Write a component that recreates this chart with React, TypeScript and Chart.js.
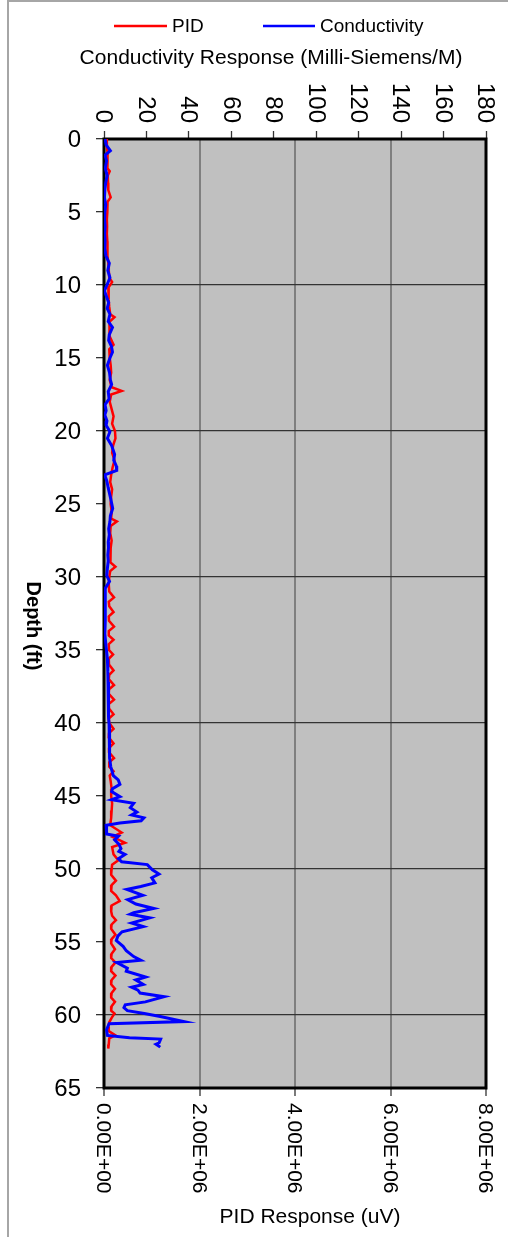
import React, { useEffect, useRef } from 'react';
import { Chart, registerables } from 'chart.js';
Chart.register(...registerables);

// PID response (uV) vs depth (ft)
const pidDepth = [0,0.5,1,1.5,2,2.2,2.5,3,3.5,4,4.3,5,5.5,6,6.5,7,7.5,8,8.5,9,9.5,9.8,10.2,10.6,11,11.5,12,12.2,12.5,13,13.5,14.1,14.4,15,15.5,16,16.5,17,17.25,17.5,18,18.5,19,19.5,20,20.5,21,21.5,22,22.5,23,23.5,24,24.5,25,25.5,26,26.2,26.5,27,27.5,28,28.5,29,29.3,29.6,30,30.5,31,31.4,31.7,32,32.4,32.7,33,33.4,33.7,34,34.3,34.6,35,35.3,35.6,36,36.4,36.7,37,37.4,37.7,38,38.4,38.7,39,39.4,39.7,40,40.4,40.7,41,41.4,41.7,42,42.4,42.7,43,43.3,43.6,44,44.5,45,45.5,46,46.5,47,47.5,47.8,48.2,48.5,49,49.4,49.7,50,50.4,50.8,51.1,51.5,51.8,52.2,52.5,52.9,53.2,53.5,53.8,54.1,54.5,54.8,55.1,55.5,55.8,56.1,56.4,56.7,57,57.3,57.6,57.9,58.2,58.5,58.8,59.1,59.4,59.7,59.9,60.2,60.5,60.8,61.1,61.4,61.6,62,62.3];
const pidValues = [45000,60000,75000,65000,80000,120000,80000,85000,90000,140000,75000,70000,60000,65000,60000,70000,65000,80000,90000,100000,110000,170000,90000,100000,95000,110000,130000,220000,120000,110000,120000,200000,110000,120000,140000,150000,120000,160000,370000,150000,120000,160000,200000,170000,230000,240000,190000,170000,220000,180000,150000,130000,170000,150000,140000,160000,150000,270000,140000,130000,160000,140000,130000,140000,240000,130000,110000,100000,110000,210000,100000,110000,200000,100000,105000,210000,100000,100000,200000,100000,105000,190000,100000,105000,200000,110000,100000,210000,105000,100000,210000,100000,105000,200000,100000,110000,200000,105000,100000,200000,110000,105000,210000,110000,110000,200000,120000,140000,160000,150000,170000,160000,150000,130000,370000,180000,440000,170000,200000,300000,170000,160000,150000,250000,160000,150000,250000,330000,160000,150000,170000,250000,160000,150000,240000,160000,150000,230000,160000,150000,240000,160000,150000,240000,160000,150000,230000,160000,150000,230000,160000,150000,220000,160000,110000,90000,100000,240000,110000,100000,90000];

// Conductivity (milli-Siemens/M) vs depth (ft)
const condDepth = [0,0.4,0.8,1.1,1.5,2,2.5,3,3.5,4,4.5,5,5.5,6,6.5,7,7.5,8,8.5,9,9.5,10,10.4,10.8,11.2,11.6,12,12.5,12.9,13.4,13.8,14.2,14.6,15,15.5,16,16.5,16.8,17.3,17.8,18.2,18.6,18.9,19.3,19.6,20.05,20.5,21,21.6,22,22.4,22.7,23,23.4,23.9,24.6,25.3,25.8,26.2,26.7,27.1,27.6,28,28.5,28.9,29.4,29.9,30.3,30.8,31.5,32.1,33,33.9,34.8,35.6,36.5,37.2,37.9,38.8,39.6,40.1,41,41.8,42.4,43,43.6,43.9,44.2,44.5,44.7,45.05,45.25,45.5,45.8,46.1,46.3,46.5,46.7,46.85,47,47.6,47.75,48,48.3,48.6,48.8,49,49.3,49.5,49.7,50.05,50.35,50.6,50.95,51.2,51.4,51.8,52.1,52.4,52.7,53,53.1,53.35,53.7,53.95,54.3,54.6,54.9,55.3,55.6,56,56.25,56.4,56.8,57,57.4,57.6,57.9,58.1,58.3,58.5,58.75,59.1,59.3,59.5,59.7,59.9,60.1,60.45,60.6,61,61.4,61.55,61.65,61.9,62,62.2];
const condValues = [0.5,1.0,3.0,0.5,1.2,0.6,1.5,0.8,0.4,0.2,0.8,0.4,0.3,0.5,0.3,0.5,0.4,0.9,2.5,1.8,2.8,1.4,0.2,1.2,2.2,1.5,2.8,2.0,4.0,2.5,2.2,3.5,4.0,2.8,1.6,2.6,3.0,3.6,2.0,2.4,0.5,1.0,0.4,1.4,1.0,2.8,1.6,3.6,5.0,4.6,5.8,6.0,0.3,1.3,2.0,3.1,4.1,3.0,2.8,2.2,2.5,2.0,2.1,1.8,2.0,1.6,1.3,2.6,0.5,0.6,0.5,0.7,0.4,1.0,1.6,1.8,1.9,2.0,2.1,2.3,2.4,2.5,2.6,2.8,3.2,4.4,6.7,7.5,4.0,3.6,7.5,3.6,14.0,12.4,15.5,13.0,18.8,17.5,7.5,1.0,1.2,6.8,5.0,7.0,8.0,7.0,9.9,6.8,8.3,20.4,22.8,25.9,22.5,24.0,17.3,10.8,18.3,11.2,15.0,23.4,14.0,12.4,21.5,13.0,18.5,8.5,6.5,5.8,9.0,10.5,14.0,17.3,6.0,11.0,10.5,19.6,15.0,18.5,13.0,16.0,17.0,28.3,19.5,10.0,9.4,11.0,19.0,26.5,37.7,2.4,1.2,1.6,12.0,26.7,26.0,24.5,26.5];

const depthTicks = [0,5,10,15,20,25,30,35,40,45,50,55,60,65];
const condTicks = [0,20,40,60,80,100,120,140,160,180];
const condTickLabels = ['0','20','40','60','80','100','120','140','160','180'];
const pidTicks = [0,2000000,4000000,6000000,8000000];
const pidTickLabels = ['0.00E+00','2.00E+06','4.00E+06','6.00E+06','8.00E+06'];

const FONT = '"Liberation Sans", Arial, sans-serif';

export default function App() {
  const ref = useRef<HTMLCanvasElement>(null);
  useEffect(() => {
    const canvas = ref.current;
    if (!canvas) return;
    const pidData = pidDepth.map((d, i) => ({ x: pidValues[i], y: d }));
    const condData = condDepth.map((d, i) => ({ x: condValues[i], y: d }));

    const decor = {
      id: 'decor',
      beforeDraw(chart: any) {
        const { ctx, chartArea: a } = chart;
        ctx.save();
        ctx.fillStyle = '#ffffff';
        ctx.fillRect(0, 0, chart.width, chart.height);
        ctx.fillStyle = '#c0c0c0';
        ctx.fillRect(a.left, a.top, a.right - a.left, a.bottom - a.top);
        // page frame
        ctx.fillStyle = '#a6a6a6';
        ctx.fillRect(7, 0, 2, chart.height);
        ctx.fillRect(7, 0, chart.width - 7, 2);
        ctx.restore();
      },
      beforeDatasetsDraw(chart: any) {
        const { ctx, chartArea: a } = chart;
        ctx.save();
        ctx.strokeStyle = '#000000';
        ctx.lineWidth = 3;
        ctx.strokeRect(a.left, a.top, a.right - a.left, a.bottom - a.top);
        ctx.restore();
      },
      afterDraw(chart: any) {
        const { ctx } = chart;
        const sx = chart.scales.x;
        const sx2 = chart.scales.x2;
        const sy = chart.scales.y;
        ctx.save();
        ctx.fillStyle = '#000000';
        // legend
        ctx.lineWidth = 2.5;
        ctx.strokeStyle = '#ff0000';
        ctx.beginPath(); ctx.moveTo(114, 26); ctx.lineTo(167, 26); ctx.stroke();
        ctx.strokeStyle = '#0000ff';
        ctx.beginPath(); ctx.moveTo(263, 26); ctx.lineTo(315, 26); ctx.stroke();
        ctx.font = '19px ' + FONT;
        ctx.textAlign = 'left';
        ctx.textBaseline = 'middle';
        ctx.fillText('PID', 172, 27);
        ctx.fillText('Conductivity', 320, 27);
        // top axis title
        ctx.font = '21px ' + FONT;
        ctx.textAlign = 'center';
        ctx.fillText('Conductivity Response (Milli-Siemens/M)', 271, 58);
        // top tick labels (rotated clockwise)
        ctx.font = '24px ' + FONT;
        condTicks.forEach((v, i) => {
          const px = sx2.getPixelForValue(v);
          ctx.save();
          ctx.translate(px, 123);
          ctx.rotate(Math.PI / 2);
          ctx.textAlign = 'right';
          ctx.textBaseline = 'middle';
          ctx.fillText(condTickLabels[i], 0, 1);
          ctx.restore();
        });
        // depth labels
        ctx.font = '24px ' + FONT;
        ctx.textAlign = 'right';
        ctx.textBaseline = 'middle';
        depthTicks.forEach((v) => {
          ctx.fillText(String(v), 81, sy.getPixelForValue(v) + 1);
        });
        // depth title
        ctx.save();
        ctx.font = 'bold 20px ' + FONT;
        ctx.translate(33, 626);
        ctx.rotate(Math.PI / 2);
        ctx.textAlign = 'center';
        ctx.textBaseline = 'middle';
        ctx.fillText('Depth (ft)', 0, 0);
        ctx.restore();
        // bottom tick labels
        ctx.font = '21px ' + FONT;
        pidTicks.forEach((v, i) => {
          const px = sx.getPixelForValue(v);
          ctx.save();
          ctx.translate(px, 1103);
          ctx.rotate(Math.PI / 2);
          ctx.textAlign = 'left';
          ctx.textBaseline = 'middle';
          ctx.fillText(pidTickLabels[i], 0, 1);
          ctx.restore();
        });
        // bottom axis title
        ctx.font = '21px ' + FONT;
        ctx.textAlign = 'center';
        ctx.textBaseline = 'middle';
        ctx.fillText('PID Response (uV)', 310, 1217);
        ctx.restore();
      },
    };

    const chart = new Chart(canvas, {
      type: 'scatter',
      data: {
        datasets: [
          {
            label: 'Conductivity',
            data: condData,
            xAxisID: 'x2',
            yAxisID: 'y',
            showLine: true,
            borderColor: '#0000ff',
            backgroundColor: '#0000ff',
            borderWidth: 3,
            pointRadius: 0,
            order: 1,
          },
          {
            label: 'PID',
            data: pidData,
            xAxisID: 'x',
            yAxisID: 'y',
            showLine: true,
            borderColor: '#ff0000',
            backgroundColor: '#ff0000',
            borderWidth: 2.5,
            pointRadius: 0,
            order: 2,
          },
        ],
      },
      options: {
        responsive: false,
        animation: false,
        devicePixelRatio: 1,
        layout: { padding: { left: 0, top: 0, right: 22, bottom: 0 } },
        plugins: { legend: { display: false }, tooltip: { enabled: false } },
        scales: {
          x: {
            type: 'linear',
            position: 'bottom',
            min: 0,
            max: 8000000,
            afterBuildTicks: (s: any) => { s.ticks = pidTicks.map((v) => ({ value: v })); },
            afterFit: (s: any) => { s.height = 149; },
            ticks: { display: false },
            border: { display: false },
            grid: {
              color: (c: any) => (c.tick && c.tick.value > 0 && c.tick.value < 8000000 ? '#7f7f7f' : 'rgba(0,0,0,0)'),
              lineWidth: 2,
              tickColor: '#333333',
              tickWidth: 1.3,
              tickLength: 8,
            },
          },
          x2: {
            type: 'linear',
            position: 'top',
            min: 0,
            max: 180,
            afterBuildTicks: (s: any) => { s.ticks = condTicks.map((v) => ({ value: v })); },
            afterFit: (s: any) => { s.height = 139; },
            ticks: { display: false },
            border: { display: false },
            grid: {
              drawOnChartArea: false,
              tickColor: '#333333',
              tickWidth: 1.3,
              tickLength: 8,
            },
          },
          y: {
            type: 'linear',
            position: 'left',
            reverse: true,
            min: 0,
            max: 65,
            afterBuildTicks: (s: any) => { s.ticks = depthTicks.map((v) => ({ value: v })); },
            afterFit: (s: any) => { s.width = 104; },
            ticks: { display: false },
            border: { display: false },
            grid: {
              color: (c: any) => (c.tick && c.tick.value % 10 === 0 && c.tick.value > 0 && c.tick.value < 65 ? '#333333' : 'rgba(0,0,0,0)'),
              lineWidth: 1.3,
              tickColor: '#333333',
              tickWidth: 1.3,
              tickLength: 8,
            },
          },
        },
      },
      plugins: [decor],
    } as any);
    return () => chart.destroy();
  }, []);

  return (
    <div style={{ position: 'absolute', left: 0, top: 0, width: 508, height: 1237 }}>
      <canvas ref={ref} width={508} height={1237} style={{ display: 'block', width: 508, height: 1237 }} />
    </div>
  );
}
